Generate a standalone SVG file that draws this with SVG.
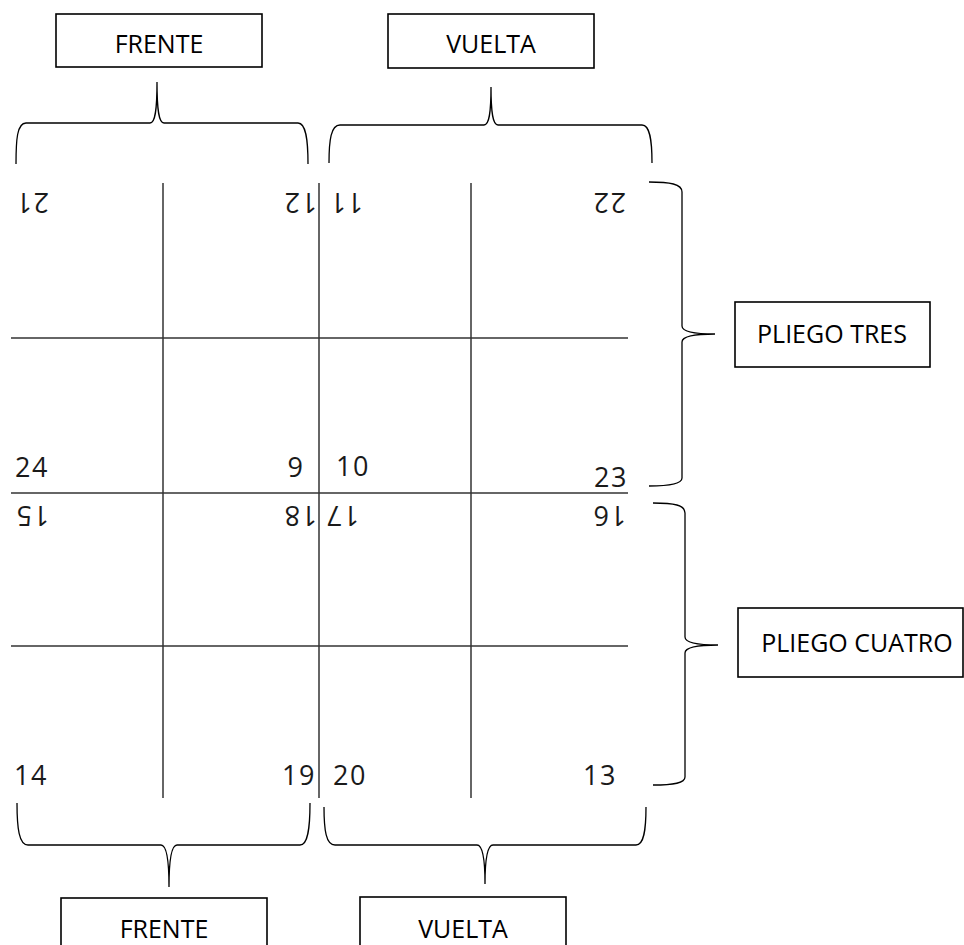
<svg xmlns="http://www.w3.org/2000/svg" width="964" height="945" viewBox="0 0 964 945">
<style>
.box{fill:#fff;stroke:#000;stroke-width:1.6}
.lbl{font-family:"Open Sans","Liberation Sans",sans-serif;font-size:25px;fill:#000;text-anchor:middle}
.num{font-family:"Open Sans","Liberation Sans",sans-serif;font-size:27px;fill:#1a1a1a;text-anchor:middle;letter-spacing:1.5px}
.grid{stroke:#333;stroke-width:1.5;fill:none}
.brace{stroke:#000;stroke-width:1.3;fill:none}
</style>
<rect width="964" height="945" fill="#fff"/>
<g id="grid" class="grid">
<line x1="163" y1="183" x2="163" y2="798"/>
<line x1="319" y1="183" x2="319" y2="798"/>
<line x1="471" y1="183" x2="471" y2="798"/>
<line x1="11" y1="338" x2="628" y2="338"/>
<line x1="11" y1="493" x2="628" y2="493"/>
<line x1="11" y1="646" x2="628" y2="646"/>
</g>
<g id="numbers">
<text class="num" x="32" y="213" transform="rotate(180 32 203)">21</text>
<text class="num" x="300" y="213" transform="rotate(180 300 203)">12</text>
<text class="num" x="346" y="213" transform="rotate(180 346 203)">11</text>
<text class="num" x="609" y="213" transform="rotate(180 609 203)">22</text>
<text class="num" x="32" y="477">24</text>
<text class="num" x="296" y="477">9</text>
<text class="num" x="353" y="476">10</text>
<text class="num" x="611" y="487">23</text>
<text class="num" x="32" y="526" transform="rotate(180 32 516)">15</text>
<text class="num" x="300" y="526" transform="rotate(180 300 516)">18</text>
<text class="num" x="342" y="526" transform="rotate(180 342 516)">17</text>
<text class="num" x="609" y="526" transform="rotate(180 609 516)">16</text>
<text class="num" x="31" y="785">14</text>
<text class="num" x="299" y="785">19</text>
<text class="num" x="350" y="785">20</text>
<text class="num" x="600" y="785">13</text>
</g>
<g id="connectors">
<path class="brace" d="M16,164 C16,140 17,123 26,123 L150,123 C155,123 157,112 157,82 C157,112 159,123 164,123 L298,123 C306,123 308,140 308,164"/>
<path class="brace" d="M329,163 C329,140 331,125 340,125 L484,125 C489,125 491,114 491,87 C491,114 493,125 498,125 L642,125 C650,125 652,140 652,163"/>
<path class="brace" d="M649,182 C670,182 682,184 682,192 L682,326 C682,331 690,334 715,334 C690,334 682,337 682,342 L682,478 C682,484 670,486 649,486"/>
<path class="brace" d="M653,503 C674,503 685,505 685,513 L685,637 C685,642 693,645 718,645 C693,645 685,648 685,653 L685,777 C685,783 674,785 653,785"/>
<path class="brace" d="M17,803 C17,828 19,845 28,845 L161,845 C166,845 169,856 169,887 C169,856 172,845 177,845 L300,845 C308,845 310,828 310,803"/>
<path class="brace" d="M324,807 C324,830 326,845 335,845 L477,845 C482,845 485,856 485,884 C485,856 488,845 493,845 L636,845 C644,845 646,830 646,807"/>
</g>
<g id="frente-top"><rect class="box" x="56" y="14" width="206" height="53"/><text class="lbl" x="159" y="53">FRENTE</text></g>
<g id="vuelta-top"><rect class="box" x="388" y="14" width="206" height="54"/><text class="lbl" x="491" y="53">VUELTA</text></g>
<g id="pliego-tres"><rect class="box" x="735" y="302" width="195" height="65"/><text class="lbl" x="832" y="343">PLIEGO TRES</text></g>
<g id="pliego-cuatro"><rect class="box" x="738" y="608" width="225" height="69"/><text class="lbl" x="857" y="652">PLIEGO CUATRO</text></g>
<g id="frente-bottom"><rect class="box" x="61" y="898" width="206" height="60"/><text class="lbl" x="164" y="938">FRENTE</text></g>
<g id="vuelta-bottom"><rect class="box" x="360" y="897" width="206" height="60"/><text class="lbl" x="463" y="938">VUELTA</text></g>
</svg>
